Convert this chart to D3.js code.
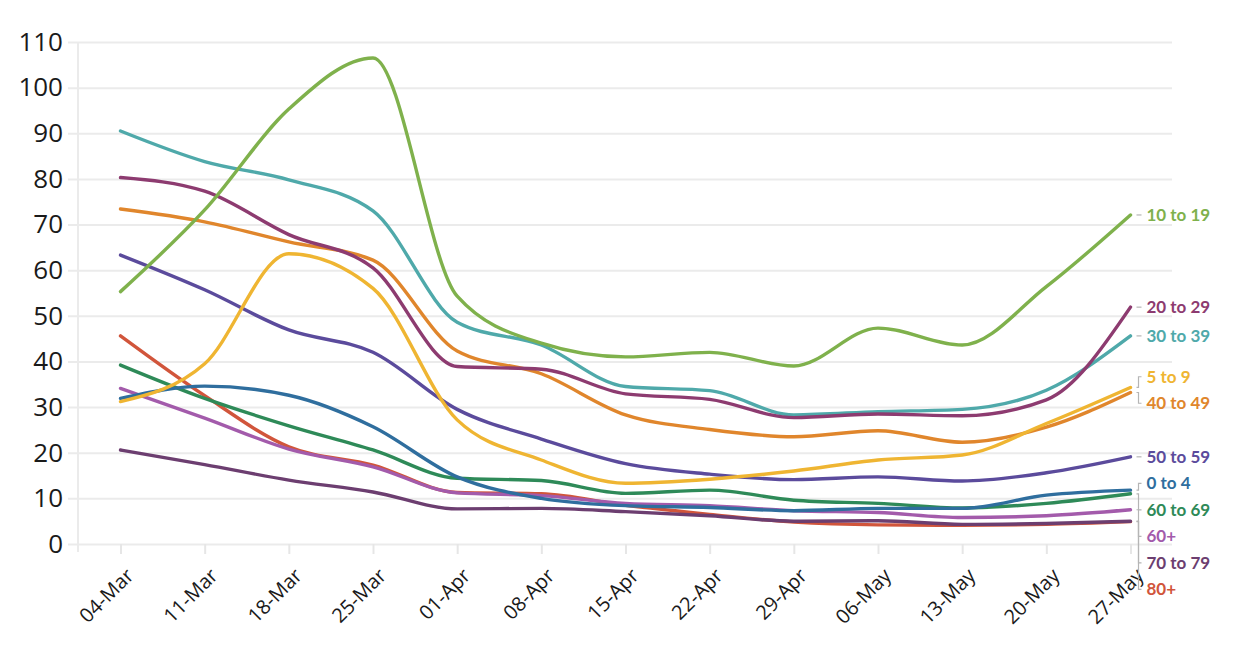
<!DOCTYPE html>
<html>
<head>
<meta charset="utf-8">
<script src="https://cdn.jsdelivr.net/npm/d3@7"></script>
<style>
  body { margin: 0; background: #fff; }
  svg { display: block; }
</style>
</head>
<body>
<svg width="1241" height="661"></svg>
<script>
// week labels
var dates = ["04-Mar", "11-Mar", "18-Mar", "25-Mar", "01-Apr", "08-Apr", "15-Apr",
             "22-Apr", "29-Apr", "06-May", "13-May", "20-May", "27-May"];

var yTicks = [0, 10, 20, 30, 40, 50, 60, 70, 80, 90, 100, 110];

// rates per age group
var age0to4   = [31.9, 34.6, 32.6, 25.7, 14.7, 10.0, 8.4, 8.0, 7.3, 7.8, 7.8, 10.7, 11.8];
var age5to9   = [31.2, 39.5, 63.6, 56.0, 27.2, 18.4, 13.3, 14.2, 16.0, 18.4, 19.5, 26.4, 34.3];
var age10to19 = [55.3, 73.2, 95.3, 106.5, 54.3, 44.0, 41.0, 42.0, 39.0, 47.3, 43.6, 56.4, 72.1];
var age20to29 = [80.3, 77.3, 67.8, 60.5, 38.9, 38.3, 32.9, 31.7, 27.7, 28.5, 28.1, 31.6, 51.9];
var age30to39 = [90.5, 83.8, 79.8, 73.0, 48.6, 43.6, 34.5, 33.6, 28.3, 29.0, 29.5, 33.7, 45.6];
var age40to49 = [73.4, 70.6, 66.2, 62.2, 42.3, 37.3, 28.3, 25.1, 23.5, 24.8, 22.3, 25.6, 33.2];
var age50to59 = [63.3, 55.7, 46.9, 42.0, 29.5, 23.0, 17.6, 15.3, 14.1, 14.7, 13.8, 15.6, 19.1];
var age60to69 = [39.2, 31.9, 25.9, 20.6, 14.4, 13.9, 11.1, 11.8, 9.6, 8.9, 7.9, 8.9, 11.0];
var age60plus = [34.1, 27.6, 20.8, 16.9, 11.2, 10.6, 8.9, 8.4, 7.3, 6.9, 5.8, 6.2, 7.5];
var age70to79 = [20.6, 17.4, 14.0, 11.4, 7.7, 7.8, 7.1, 6.2, 5.0, 5.1, 4.3, 4.5, 5.0];
var age80plus = [45.6, 32.5, 21.3, 17.3, 11.3, 11.0, 8.5, 6.5, 4.8, 4.2, 4.1, 4.3, 4.9];

var groupNames = ["10 to 19", "20 to 29", "30 to 39", "5 to 9", "40 to 49", "50 to 59",
                  "0 to 4", "60 to 69", "60+", "70 to 79", "80+"];
var groupValues = [age10to19, age20to29, age30to39, age5to9, age40to49, age50to59,
                   age0to4, age60to69, age60plus, age70to79, age80plus];
var groupColors = ["#7fb14c", "#8d3b70", "#4fa9aa", "#efb532", "#e0862c", "#5b4b9c",
                   "#2f6e9e", "#2e8a58", "#a35bab", "#6c3e70", "#d1553b"];

var svg = d3.select("svg");

var x = d3.scalePoint().domain(dates).range([120.5, 1130.5]);
var y = d3.scaleLinear().domain([0, 110]).range([544, 42]);

var gridLeft = 68, gridRight = 1172, axisX = 78;

// horizontal gridlines + y labels
var yAxis = svg.append("g")
    .attr("transform", "translate(" + gridLeft + ",0)")
    .call(d3.axisLeft(y).tickValues(yTicks).tickSize(-(gridRight - gridLeft)).tickPadding(5));
yAxis.select(".domain").remove();
yAxis.selectAll(".tick line").attr("stroke", "#ebebeb").attr("stroke-width", 2);
yAxis.selectAll(".tick text")
    .attr("fill", "#1a1a1a")
    .style("font-family", "'Open Sans', 'Noto Sans', sans-serif")
    .style("font-size", "26px");

// vertical axis line
svg.append("line")
    .attr("x1", axisX).attr("x2", axisX)
    .attr("y1", y(110)).attr("y2", y(0) + 8)
    .attr("stroke", "#ebebeb").attr("stroke-width", 2);

// x axis ticks + rotated labels
var xAxis = svg.append("g")
    .attr("transform", "translate(0," + y(0) + ")")
    .call(d3.axisBottom(x).tickSize(10));
xAxis.select(".domain").remove();
xAxis.selectAll(".tick line").attr("stroke", "#e6e6e6").attr("stroke-width", 2);
xAxis.selectAll(".tick text")
    .attr("fill", "#1a1a1a")
    .style("font-family", "'Open Sans', 'Noto Sans', sans-serif")
    .style("font-size", "20px")
    .attr("text-anchor", "end")
    .attr("dy", "0.35em")
    .attr("y", 0)
    .attr("transform", "translate(9,28) rotate(-45)");

// lines
var line = d3.line()
    .x(function(d, i) { return x(dates[i]); })
    .y(function(d) { return y(d); })
    .curve(d3.curveMonotoneX);

var series = groupNames.map(function(name, i) {
    return { name: name, values: groupValues[i], color: groupColors[i] };
});

svg.append("g")
    .selectAll("path")
    .data(series.slice().reverse())
    .enter().append("path")
        .attr("d", function(d) { return line(d.values); })
        .attr("fill", "none")
        .attr("stroke", function(d) { return d.color; })
        .attr("stroke-width", 3.4)
        .attr("stroke-linejoin", "round")
        .attr("stroke-linecap", "round");

// end labels: cluster close ones, centre them, then push down so they don't overlap
var gap = 26.5;
var ends = series.map(function(d) {
    return { s: d, endY: y(d.values[d.values.length - 1]) };
}).sort(function(a, b) { return a.endY - b.endY; });

var clusters = [];
ends.forEach(function(e) {
    var last = clusters[clusters.length - 1];
    if (last && e.endY - last[last.length - 1].endY < gap) last.push(e);
    else clusters.push([e]);
});
var prevY = -Infinity;
clusters.forEach(function(c) {
    var mid = d3.mean(c, function(e) { return e.endY; });
    var start = mid - (c.length - 1) * gap / 2;
    if (start < prevY + gap) start = prevY + gap;
    c.forEach(function(e, k) { e.labelY = start + k * gap; });
    prevY = c[c.length - 1].labelY;
});

var lastX = x(dates[dates.length - 1]);
var labels = svg.append("g");

labels.selectAll("path")
    .data(ends)
    .enter().append("path")
        .attr("d", function(d) {
            return "M" + (lastX + 6) + "," + d.endY + "H" + (lastX + 8) +
                   "V" + d.labelY + "H" + (lastX + 11);
        })
        .attr("fill", "none")
        .attr("stroke", "#b5b5b5")
        .attr("stroke-width", 1.2);

labels.selectAll("text")
    .data(ends)
    .enter().append("text")
        .attr("x", lastX + 16)
        .attr("y", function(d) { return d.labelY; })
        .attr("dy", "0.35em")
        .attr("fill", function(d) { return d.s.color; })
        .style("font-family", "Lato, 'Open Sans', sans-serif")
        .style("font-weight", "bold")
        .style("font-size", "17px")
        .text(function(d) { return d.s.name; });
</script>
</body>
</html>
